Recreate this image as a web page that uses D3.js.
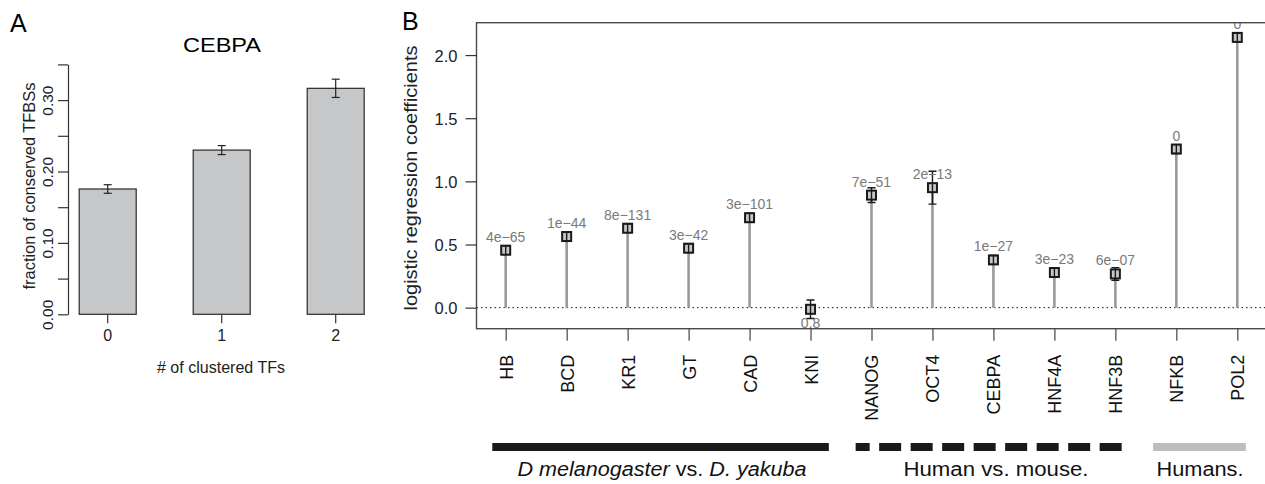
<!DOCTYPE html>
<html>
<head>
<meta charset="utf-8">
<script src="https://cdn.jsdelivr.net/npm/d3@7"></script>
<style>
  html, body { margin: 0; padding: 0; background: #fff; }
  svg { display: block; font-family: "Liberation Sans", Arial, sans-serif; }
</style>
</head>
<body>
<svg id="chart" width="1265" height="484"></svg>
<script>
// Panel A: CEBPA conserved fraction by number of clustered TFs
const clusterCats = ['0', '1', '2']
const conservedFrac = [0.1755, 0.230, 0.3165]
const conservedErr = [0.006, 0.0063, 0.0128]
const fracTicks = [0, 0.05, 0.10, 0.15, 0.20, 0.25, 0.30, 0.35]

// Panel B: logistic regression coefficients per TF
const tfNames = ['HB', 'BCD', 'KR1', 'GT', 'CAD', 'KNI', 'NANOG', 'OCT4', 'CEBPA', 'HNF4A', 'HNF3B', 'NFKB', 'POL2']
const coefs = [0.455, 0.563, 0.629, 0.471, 0.712, -0.013, 0.891, 0.950, 0.378, 0.278, 0.267, 1.256, 2.140]
const coefErr = [0.035, 0.035, 0.035, 0.035, 0.035, 0.073, 0.058, 0.13, 0.035, 0.035, 0.05, 0.035, 0.035]
const pvals = ['4e\u221265', '1e\u221244', '8e\u2212131', '3e\u221242', '3e\u2212101', '0.8', '7e\u221251', '2e\u221213', '1e\u221227', '3e\u221223', '6e\u221207', '0', '0']
const coefTicks = [0, 0.5, 1.0, 1.5, 2.0]

// species groups under the x axis
const groupFirst = ['HB', 'NANOG', 'NFKB']
const groupLast = ['KNI', 'HNF3B', 'POL2']
const groupLabels = ['Human vs. mouse.', 'Human vs. mouse.', 'Humans.']

const svg = d3.select('#chart')
const font = '"Liberation Sans", Arial, sans-serif'

// ---------- Panel A ----------
const xA = d3.scaleBand().domain(clusterCats).range([50.7, 392.7]).paddingInner(0.5).paddingOuter(0.25)
const yA = d3.scaleLinear().domain([0, 0.35]).range([314.3, 64.4])

const gA = svg.append('g')

gA.append('text').attr('x', 10).attr('y', 32).attr('font-size', 25).text('A')
gA.append('text').attr('x', 222).attr('y', 52).attr('font-size', 21)
  .attr('text-anchor', 'middle').attr('textLength', 78).attr('lengthAdjust', 'spacingAndGlyphs').text('CEBPA')

gA.selectAll('rect.bar').data(conservedFrac).join('rect')
  .attr('class', 'bar')
  .attr('x', (d, i) => xA(clusterCats[i]))
  .attr('width', xA.bandwidth())
  .attr('y', d => yA(d))
  .attr('height', d => yA(0) - yA(d))
  .attr('fill', '#c6c7c8').attr('stroke', '#2a2a2a').attr('stroke-width', 1.2)

// error bars
const errA = gA.append('g').attr('stroke', '#222').attr('stroke-width', 1.2)
conservedFrac.forEach((v, i) => {
  const cx = xA(clusterCats[i]) + xA.bandwidth() / 2
  const lo = yA(v - conservedErr[i]), hi = yA(v + conservedErr[i])
  errA.append('line').attr('x1', cx).attr('x2', cx).attr('y1', lo).attr('y2', hi)
  errA.append('line').attr('x1', cx - 4).attr('x2', cx + 4).attr('y1', lo).attr('y2', lo)
  errA.append('line').attr('x1', cx - 4).attr('x2', cx + 4).attr('y1', hi).attr('y2', hi)
})

const axA = gA.append('g').attr('transform', 'translate(68,0)')
  .call(d3.axisLeft(yA).tickValues(fracTicks).tickSize(10).tickSizeOuter(0)
    .tickFormat(d => (Math.round(d * 100) % 10 === 0) ? d3.format('.2f')(d) : ''))
axA.select('.domain').attr('stroke', '#333').attr('stroke-width', 1.2)
axA.selectAll('.tick line').attr('stroke', '#333').attr('stroke-width', 1.2)
axA.selectAll('.tick text')
  .attr('transform', 'rotate(-90)').attr('x', 0).attr('y', -15).attr('dy', 0)
  .attr('text-anchor', 'middle').attr('font-size', 15.5).attr('font-family', font).attr('fill', '#222')

const axAx = gA.append('g').attr('transform', 'translate(0,314.3)')
  .call(d3.axisBottom(xA).tickSize(9).tickSizeOuter(0))
axAx.select('.domain').remove()
axAx.selectAll('.tick line').attr('stroke', '#333').attr('stroke-width', 1.2)
axAx.selectAll('.tick text').attr('y', 27).attr('dy', 0).attr('font-size', 16).attr('font-family', font).attr('fill', '#222')

gA.append('text').attr('x', 221).attr('y', 373).attr('font-size', 16).attr('text-anchor', 'middle')
  .attr('textLength', 128).attr('lengthAdjust', 'spacingAndGlyphs').attr('fill', '#222').text('# of clustered TFs')
gA.append('text').attr('transform', 'translate(35,186) rotate(-90)').attr('font-size', 16.5)
  .attr('text-anchor', 'middle').attr('textLength', 207).attr('lengthAdjust', 'spacingAndGlyphs')
  .attr('fill', '#222').text('fraction of conserved TFBSs')

// ---------- Panel B ----------
const boxL = 476.5, boxT = 22.7, boxB = 328.7, boxR = 1266.5
const xB = d3.scalePoint().domain(tfNames).range([505.7, 1237.3])
const yB = d3.scaleLinear().domain([-0.1667, 2.2563]).range([boxB, boxT])

const gB = svg.append('g')
gB.append('text').attr('x', 402).attr('y', 30).attr('font-size', 25).text('B')

svg.append('defs').append('clipPath').attr('id', 'plotB')
  .append('rect').attr('x', boxL).attr('y', boxT).attr('width', boxR - boxL).attr('height', boxB - boxT)

const plot = gB.append('g').attr('clip-path', 'url(#plotB)')

// dotted zero line
plot.append('line').attr('x1', boxL).attr('x2', boxR).attr('y1', yB(0)).attr('y2', yB(0))
  .attr('stroke', '#111').attr('stroke-width', 1).attr('stroke-dasharray', '1.5,3')

// stems
plot.selectAll('line.stem').data(coefs).join('line').attr('class', 'stem')
  .attr('x1', (d, i) => xB(tfNames[i])).attr('x2', (d, i) => xB(tfNames[i]))
  .attr('y1', yB(0)).attr('y2', d => yB(d))
  .attr('stroke', '#9a9a9a').attr('stroke-width', 2.6)

// squares
plot.selectAll('rect.pt').data(coefs).join('rect').attr('class', 'pt')
  .attr('x', (d, i) => xB(tfNames[i]) - 4.5).attr('y', d => yB(d) - 4.5)
  .attr('width', 9).attr('height', 9)
  .attr('fill', '#c8c8c8').attr('stroke', '#1a1a1a').attr('stroke-width', 2)

// error bars
const errB = plot.append('g').attr('stroke', '#1a1a1a').attr('stroke-width', 1.4)
coefs.forEach((v, i) => {
  const cx = xB(tfNames[i])
  const lo = yB(v - coefErr[i]), hi = yB(v + coefErr[i])
  errB.append('line').attr('x1', cx).attr('x2', cx).attr('y1', lo).attr('y2', hi)
  errB.append('line').attr('x1', cx - 4).attr('x2', cx + 4).attr('y1', lo).attr('y2', lo)
  errB.append('line').attr('x1', cx - 4).attr('x2', cx + 4).attr('y1', hi).attr('y2', hi)
})

// p-value labels
plot.selectAll('text.pv').data(pvals).join('text').attr('class', 'pv')
  .attr('x', (d, i) => xB(tfNames[i]))
  .attr('y', (d, i) => coefs[i] < 0 ? yB(coefs[i]) + 19 : yB(coefs[i]) - 8.5)
  .attr('text-anchor', 'middle').attr('font-size', 14).attr('fill', '#7a7a7a')
  .text(d => d)

// frame
gB.append('rect').attr('x', boxL).attr('y', boxT).attr('width', boxR - boxL).attr('height', boxB - boxT)
  .attr('fill', 'none').attr('stroke', '#4a4a4a').attr('stroke-width', 1.4)

const axB = gB.append('g').attr('transform', `translate(${boxL},0)`)
  .call(d3.axisLeft(yB).tickValues(coefTicks).tickSize(11).tickSizeOuter(0).tickFormat(d3.format('.1f')))
axB.select('.domain').remove()
axB.selectAll('.tick line').attr('stroke', '#333').attr('stroke-width', 1.2)
axB.selectAll('.tick text').attr('x', -19).attr('dy', '0.36em').attr('font-size', 16.5)
  .attr('font-family', font).attr('fill', '#222')

const axBx = gB.append('g').attr('transform', `translate(0,${boxB})`)
  .call(d3.axisBottom(xB).tickSize(12).tickSizeOuter(0))
axBx.select('.domain').remove()
axBx.selectAll('.tick line').attr('stroke', '#444').attr('stroke-width', 1.2)
axBx.selectAll('.tick text')
  .attr('transform', 'rotate(-90)').attr('x', -26).attr('y', 0).attr('dy', '0.36em')
  .attr('text-anchor', 'end').attr('font-size', 18).attr('font-family', font).attr('fill', '#111')

gB.append('text').attr('transform', 'translate(417,178) rotate(-90)').attr('font-size', 19)
  .attr('text-anchor', 'middle').attr('textLength', 265).attr('lengthAdjust', 'spacingAndGlyphs')
  .attr('fill', '#222').text('logistic regression coefficients')

// ---------- species group bars ----------
const step = xB.step()
const barY = 447
// how far each bar reaches past its first / last tick, in steps
const groupPad = [[0.22, 0.30], [0.26, 0.14], [0.38, 0.14]]
const groupStroke = ['#1a1a1a', '#1a1a1a', '#bcbdbf']

groupFirst.forEach((f, i) => {
  const x0 = xB(f) - step * groupPad[i][0]
  const x1 = xB(groupLast[i]) + step * groupPad[i][1]
  const line = gB.append('line').attr('x1', x0).attr('x2', x1).attr('y1', barY).attr('y2', barY)
    .attr('stroke-width', 8).attr('stroke', groupStroke[i])
  if (i === 1) line.attr('stroke-dasharray', '22,9.5').attr('stroke-dashoffset', 8)
})

const t1 = gB.append('text').attr('x', 662).attr('y', 476).attr('font-size', 20).attr('text-anchor', 'middle')
  .attr('textLength', 289).attr('lengthAdjust', 'spacingAndGlyphs').attr('fill', '#111')
t1.append('tspan').attr('font-style', 'italic').text('D melanogaster')
t1.append('tspan').text(' vs. ')
t1.append('tspan').attr('font-style', 'italic').text('D. yakuba')

gB.append('text').attr('x', 996).attr('y', 476).attr('font-size', 20).attr('text-anchor', 'middle')
  .attr('textLength', 185).attr('lengthAdjust', 'spacingAndGlyphs').attr('fill', '#111').text(groupLabels[1])
gB.append('text').attr('x', 1200).attr('y', 476).attr('font-size', 20).attr('text-anchor', 'middle')
  .attr('textLength', 87).attr('lengthAdjust', 'spacingAndGlyphs').attr('fill', '#111').text(groupLabels[2])
</script>
</body>
</html>
